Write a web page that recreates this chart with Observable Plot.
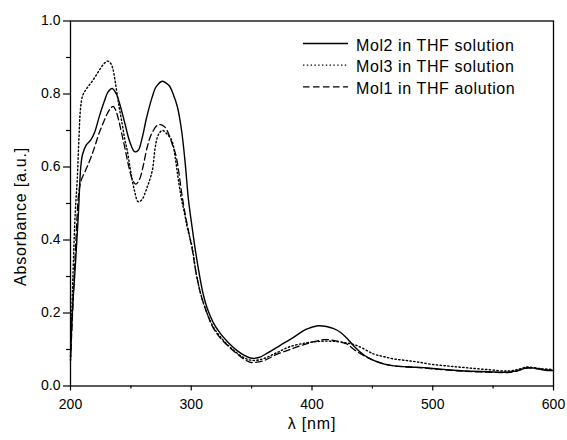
<!DOCTYPE html>
<html>
<head>
<meta charset="utf-8">
<script src="https://cdn.jsdelivr.net/npm/d3@7"></script>
<script src="https://cdn.jsdelivr.net/npm/@observablehq/plot@0.6"></script>
<style>
  html, body { margin: 0; padding: 0; background: white; }
  #chart { width: 567px; height: 440px; }
</style>
</head>
<body>
<div id="chart"></div>
<script>
// ---- data ----
const seriesNames = ["Mol2 in THF solution", "Mol3 in THF solution", "Mol1 in THF aolution"];

const wlMol2 = [200,201.5,204,206.5,208.5,210,213,217,220,224,228,231,234.5,238,241,245,249,253,256,259,263,267.5,271,276,280,282,285,288.5,292,295,297.7,300.5,303.5,307,310,313,318,324,331,338,344,350,356,363,374,385,395,405,412,418,424,430,436,443,451,460,468,480,490,500,515,528,545,562,570,578,586,592,600];
const abMol2 = [0.08,0.2,0.33,0.47,0.6,0.635,0.66,0.675,0.695,0.74,0.78,0.805,0.815,0.8,0.77,0.72,0.67,0.642,0.645,0.675,0.735,0.79,0.82,0.835,0.828,0.822,0.8,0.765,0.7,0.61,0.51,0.44,0.37,0.3,0.25,0.215,0.175,0.144,0.118,0.097,0.084,0.076,0.078,0.09,0.112,0.134,0.155,0.165,0.163,0.157,0.146,0.127,0.105,0.085,0.07,0.06,0.055,0.052,0.051,0.048,0.044,0.041,0.039,0.038,0.042,0.05,0.048,0.044,0.042];

const wlMol3 = [200,202,204,205.5,207,208.3,210,212.4,215,218,221,224,227,230.5,233,235,237.3,240,242.8,245,247,250,253,256,259,263.5,267.7,270,271.8,274,276.5,280,284,287,289,292,294,297,300.8,304,308,313,318,324,331,338,345,352,360,370,382,395,405,413,425,437,451,460,468,478,487,500,515,528,545,562,570,578,588,600];
const abMol3 = [0.07,0.3,0.48,0.56,0.68,0.76,0.795,0.81,0.822,0.835,0.85,0.866,0.88,0.89,0.885,0.87,0.828,0.77,0.718,0.675,0.645,0.585,0.535,0.505,0.51,0.545,0.59,0.65,0.68,0.695,0.7,0.69,0.672,0.62,0.572,0.51,0.48,0.43,0.38,0.31,0.25,0.2,0.163,0.135,0.11,0.09,0.075,0.07,0.075,0.09,0.108,0.118,0.122,0.123,0.12,0.111,0.088,0.08,0.074,0.07,0.066,0.059,0.054,0.05,0.045,0.041,0.045,0.052,0.048,0.045];

const wlMol1 = [200,202,204.5,206.9,209,212.4,215,218,220.5,223.4,227,230.4,233,235.3,237.5,240,242.5,245.5,248,251,254,257,260,263.5,267,271.8,274.5,278,281.4,284,287,289.5,292,295,298,301,304,308,313,318,324,331,338,344,349,356,362,368.4,375,382,390,400,409.8,418,424,429,436,443,451,460,468,480,490,500,515,528,545,562,570,578,588,600];
const abMol1 = [0.07,0.22,0.4,0.53,0.565,0.59,0.61,0.636,0.66,0.69,0.72,0.746,0.76,0.766,0.755,0.727,0.69,0.645,0.605,0.568,0.553,0.565,0.6,0.654,0.69,0.714,0.716,0.71,0.69,0.665,0.636,0.59,0.53,0.47,0.42,0.37,0.31,0.25,0.2,0.16,0.132,0.108,0.088,0.073,0.065,0.066,0.072,0.083,0.092,0.1,0.11,0.12,0.127,0.125,0.12,0.115,0.097,0.083,0.07,0.06,0.055,0.052,0.05,0.047,0.043,0.04,0.038,0.037,0.041,0.049,0.047,0.042];

const xMajorTicks = [200, 300, 400, 500, 600];
const xMinorTicks = [250, 350, 450, 550];
const yMajorTicks = [0, 0.2, 0.4, 0.6, 0.8, 1.0];
const yMinorTicks = [0.1, 0.3, 0.5, 0.7, 0.9];
const xLabel = "λ [nm]";
const yLabel = "Absorbance [a.u.]";

// ---- build tables ----
const mk = (wl, ab, name) => wl.map((w, i) => ({wl: w, ab: ab[i], name}));
const mol2 = mk(wlMol2, abMol2, seriesNames[0]);
const mol3 = mk(wlMol3, abMol3, seriesNames[1]);
const mol1 = mk(wlMol1, abMol1, seriesNames[2]);

const styles = {
  [seriesNames[0]]: null,
  [seriesNames[1]]: "1.4,2.4",
  [seriesNames[2]]: "6.5,3.5"
};

const font = "'Liberation Sans', Arial, Helvetica, sans-serif";

const chart = Plot.plot({
  width: 567,
  height: 440,
  marginLeft: 70,
  marginRight: 14,
  marginTop: 20.5,
  marginBottom: 54.5,
  style: {fontFamily: font, fontSize: "14px", color: "black", background: "white", overflow: "visible"},
  x: {domain: [200, 600]},
  y: {domain: [0, 1]},
  marks: [
    Plot.axisX({ticks: xMajorTicks, tickSize: 5, tickPadding: 8, tickFormat: d3.format("d"), label: null, strokeWidth: 1.2}),
    Plot.axisX({ticks: xMinorTicks, tickSize: 3, text: null, label: null, strokeWidth: 1.2}),
    Plot.axisY({ticks: yMajorTicks, tickSize: 7, tickPadding: 3, tickFormat: d3.format(".1f"), label: null, strokeWidth: 1.2}),
    Plot.axisY({ticks: yMinorTicks, tickSize: 4, text: null, label: null, strokeWidth: 1.2}),
    Plot.line(mol2, {x: "wl", y: "ab", curve: "catmull-rom", stroke: "black", strokeWidth: 1.4}),
    Plot.line(mol3, {x: "wl", y: "ab", curve: "catmull-rom", stroke: "black", strokeWidth: 1.4, strokeDasharray: styles[seriesNames[1]]}),
    Plot.line(mol1, {x: "wl", y: "ab", curve: "catmull-rom", stroke: "black", strokeWidth: 1.3, strokeDasharray: styles[seriesNames[2]]}),
    Plot.frame({stroke: "black", strokeWidth: 1.3}),
    Plot.text([yLabel], {frameAnchor: "left", rotate: -90, dx: -50, dy: 13, textAnchor: "middle", lineAnchor: "middle", fontSize: 16, fill: "black", text: d => d}),
    Plot.text([xLabel], {frameAnchor: "bottom", dy: 37.5, textAnchor: "middle", lineAnchor: "middle", fontSize: 16, fill: "black", text: d => d})
  ]
});

document.getElementById("chart").appendChild(chart);

// letter spacing for axis labels
d3.select(chart).selectAll("text").filter(function() { return this.textContent === yLabel || this.textContent === xLabel; })
  .attr("letter-spacing", "0.8px");

// ---- legend inside the plot (top-right) ----
const svg = d3.select(chart);
const lg = svg.append("g").attr("font-family", font).attr("font-size", 16).attr("text-anchor", "start");
seriesNames.forEach((name, i) => {
  const yy = 43.5 + i * 21.7;
  lg.append("line")
    .attr("x1", 303).attr("x2", 348)
    .attr("y1", yy).attr("y2", yy)
    .attr("stroke", "black").attr("stroke-width", 1.3)
    .attr("stroke-dasharray", styles[name]);
  lg.append("text")
    .attr("x", 356).attr("y", yy + 7)
    .attr("text-anchor", "start")
    .attr("letter-spacing", "0.6px")
    .attr("fill", "black")
    .text(name);
});
</script>
</body>
</html>
